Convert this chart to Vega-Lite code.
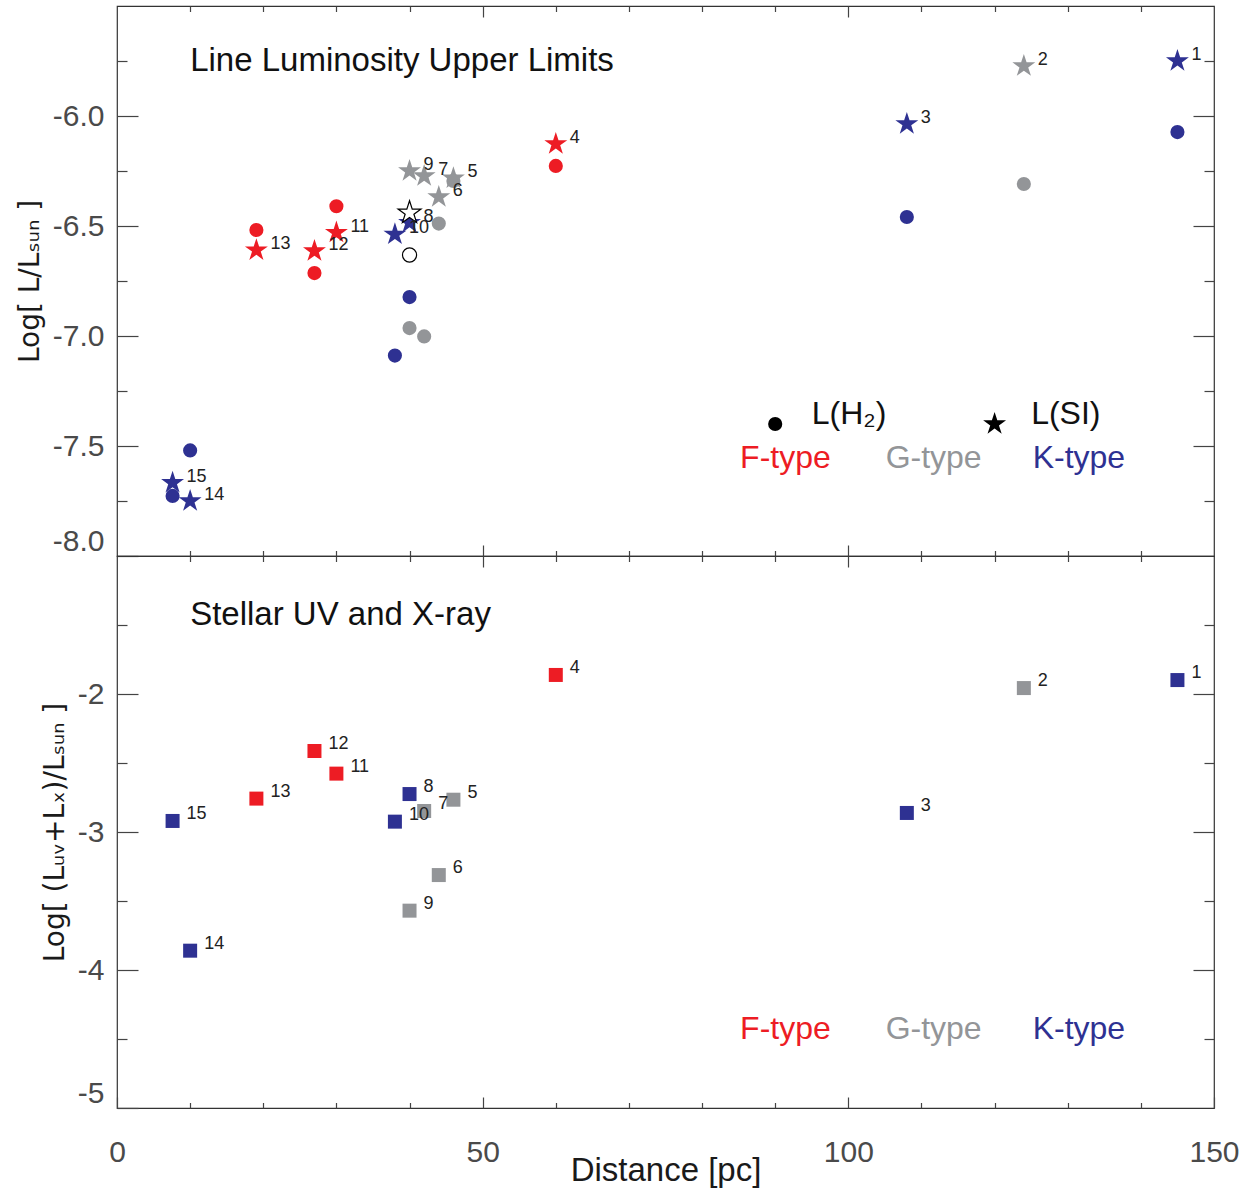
{
  "$schema": "https://vega.github.io/schema/vega-lite/v6.json",
  "background": "white",
  "padding": {"left": 15, "top": 4, "right": 5, "bottom": 5},
  "spacing": 0,
  "bounds": "flush",
  "config": {
    "font": "Liberation Sans",
    "view": {"stroke": "#333333", "strokeWidth": 1.2},
    "axis": {
      "grid": false,
      "labelFont": "Liberation Sans",
      "titleFont": "DejaVu Sans",
      "labelFontSize": 30,
      "titleFontSize": 28,
      "titleFontWeight": "normal",
      "labelColor": "#4a4a4a",
      "titleColor": "#1a1a1a",
      "tickColor": "#444444",
      "tickWidth": 1.2,
      "domain": false
    }
  },
  "datasets": {
    "stars": [
      {"id": 1, "type": "K", "d": 145.0, "SI": -5.75, "H2": -6.073, "UVX": -1.899},
      {"id": 2, "type": "G", "d": 124.0, "SI": -5.773, "H2": -6.309, "UVX": -1.957},
      {"id": 3, "type": "K", "d": 108.0, "SI": -6.036, "H2": -6.459, "UVX": -2.862},
      {"id": 4, "type": "F", "d": 60.0, "SI": -6.127, "H2": -6.227, "UVX": -1.862},
      {"id": 5, "type": "G", "d": 46.0, "SI": -6.283, "H2": -6.295, "UVX": -2.766},
      {"id": 6, "type": "G", "d": 44.0, "SI": -6.368, "H2": -6.489, "UVX": -3.312},
      {"id": 7, "type": "G", "d": 42.0, "SI": -6.273, "H2": -7.002, "UVX": -2.848},
      {"id": 8, "type": "K", "d": 40.0, "SI": -6.485, "H2": -6.823, "UVX": -2.725},
      {"id": 9, "type": "G", "d": 40.0, "SI": -6.25, "H2": -6.964, "UVX": -3.57},
      {"id": 10, "type": "K", "d": 38.0, "SI": -6.538, "H2": -7.089, "UVX": -2.925},
      {"id": 11, "type": "F", "d": 30.0, "SI": -6.53, "H2": -6.41, "UVX": -2.577},
      {"id": 12, "type": "F", "d": 27.0, "SI": -6.614, "H2": -6.714, "UVX": -2.413},
      {"id": 13, "type": "F", "d": 19.06, "SI": -6.61, "H2": -6.518, "UVX": -2.758},
      {"id": 14, "type": "K", "d": 10.0, "SI": -7.75, "H2": -7.52, "UVX": -3.86},
      {"id": 15, "type": "K", "d": 7.6, "SI": -7.667, "H2": -7.727, "UVX": -2.92}
    ],
    "open": [
      {"line": "SI", "d": 40.0, "value": -6.44},
      {"line": "H2", "d": 40.0, "value": -6.632}
    ],
    "legendSym": [
      {"line": "H2", "d": 90, "value": -7.4},
      {"line": "SI", "d": 120, "value": -7.4}
    ],
    "legendTxt": [
      {"label": "L(H₂)", "d": 95, "value": -7.355},
      {"label": "L(SI)", "d": 125, "value": -7.355}
    ],
    "typesTop": [
      {"type": "F", "label": "F-type", "d": 85.2, "value": -7.555},
      {"type": "G", "label": "G-type", "d": 105.1, "value": -7.555},
      {"type": "K", "label": "K-type", "d": 125.2, "value": -7.555}
    ],
    "typesBottom": [
      {"type": "F", "label": "F-type", "d": 85.2, "value": -4.428},
      {"type": "G", "label": "G-type", "d": 105.1, "value": -4.428},
      {"type": "K", "label": "K-type", "d": 125.2, "value": -4.428}
    ],
    "titleTop": [{"label": "Line Luminosity Upper Limits", "d": 10, "value": -5.75}],
    "titleBottom": [{"label": "Stellar UV and X-ray", "d": 10, "value": -1.428}]
  },
  "vconcat": [
    {
      "width": 1097,
      "height": 550,
      "resolve": {"axis": {"x": "independent", "y": "independent"}},
      "layer": [
        {
          "data": {"name": "stars"},
          "transform": [{"fold": ["H2", "SI"], "as": ["line", "value"]}],
          "mark": {"type": "point", "filled": true, "opacity": 1},
          "encoding": {
            "x": {"field": "d", "type": "quantitative", "scale": {"domain": [0, 150], "nice": false, "zero": false},
                  "axis": {"orient": "bottom", "values": [50, 100], "tickSize": -11, "labels": false, "title": null}},
            "y": {"field": "value", "type": "quantitative", "scale": {"domain": [-8, -5.5], "nice": false, "zero": false},
                  "axis": {"orient": "left", "values": [-8, -7.5, -7, -6.5, -6], "format": ".1f", "labelExpr": "replace(datum.label, '−', '-')",
                           "tickSize": -21, "labelPadding": 34, "labelFlush": true, "title": "Log[ L/Lₛᵤₙ ]", "titlePadding": 8}},
            "shape": {"field": "line", "type": "nominal", "scale": {"domain": ["H2", "SI"], "range": ["circle", "M0,-1L0.2245,-0.309L0.9511,-0.309L0.3633,0.118L0.5878,0.809L0,0.382L-0.5878,0.809L-0.3633,0.118L-0.9511,-0.309L-0.2245,-0.309Z"]}, "legend": null},
            "size": {"field": "line", "type": "nominal", "scale": {"domain": ["H2", "SI"], "range": [200, 580]}, "legend": null},
            "color": {"field": "type", "type": "nominal", "scale": {"domain": ["F", "G", "K"], "range": ["#ED1C24", "#939598", "#2E3192"]}, "legend": null}
          }
        },
        {
          "data": {"name": "open"},
          "mark": {"type": "point", "filled": true, "fill": "white", "stroke": "black", "strokeWidth": 1.2, "opacity": 1},
          "encoding": {
            "x": {"field": "d", "type": "quantitative", "scale": {"domain": [0, 150], "nice": false, "zero": false}, "axis": null},
            "y": {"field": "value", "type": "quantitative", "scale": {"domain": [-8, -5.5], "nice": false, "zero": false}, "axis": null},
            "shape": {"field": "line", "type": "nominal", "scale": {"domain": ["H2", "SI"], "range": ["circle", "M0,-1L0.2245,-0.309L0.9511,-0.309L0.3633,0.118L0.5878,0.809L0,0.382L-0.5878,0.809L-0.3633,0.118L-0.9511,-0.309L-0.2245,-0.309Z"]}, "legend": null},
            "size": {"field": "line", "type": "nominal", "scale": {"domain": ["H2", "SI"], "range": [200, 580]}, "legend": null}
          }
        },
        {
          "data": {"name": "stars"},
          "mark": {"type": "text", "align": "left", "baseline": "middle", "dx": 14, "dy": -6, "fontSize": 18, "color": "#222222"},
          "encoding": {
            "x": {"field": "d", "type": "quantitative", "scale": {"domain": [0, 150], "nice": false, "zero": false},
                  "axis": {"orient": "bottom", "values": [10, 20, 30, 40, 60, 70, 80, 90, 110, 120, 130, 140], "tickSize": -5.5, "labels": false, "title": null}},
            "y": {"field": "SI", "type": "quantitative", "scale": {"domain": [-8, -5.5], "nice": false, "zero": false},
                  "axis": {"orient": "left", "values": [-7.75, -7.25, -6.75, -6.25, -5.75], "tickSize": -10, "labels": false, "title": null}},
            "text": {"field": "id", "type": "nominal"}
          }
        },
        {
          "data": {"name": "legendSym"},
          "mark": {"type": "point", "filled": true, "color": "black", "opacity": 1},
          "encoding": {
            "x": {"field": "d", "type": "quantitative", "scale": {"domain": [0, 150], "nice": false, "zero": false},
                  "axis": {"orient": "top", "values": [50, 100], "tickSize": -11, "labels": false, "title": null}},
            "y": {"field": "value", "type": "quantitative", "scale": {"domain": [-8, -5.5], "nice": false, "zero": false},
                  "axis": {"orient": "right", "values": [-7.5, -7, -6.5, -6], "tickSize": -21, "labels": false, "title": null}},
            "shape": {"field": "line", "type": "nominal", "scale": {"domain": ["H2", "SI"], "range": ["circle", "M0,-1L0.2245,-0.309L0.9511,-0.309L0.3633,0.118L0.5878,0.809L0,0.382L-0.5878,0.809L-0.3633,0.118L-0.9511,-0.309L-0.2245,-0.309Z"]}, "legend": null},
            "size": {"field": "line", "type": "nominal", "scale": {"domain": ["H2", "SI"], "range": [200, 580]}, "legend": null}
          }
        },
        {
          "data": {"name": "legendTxt"},
          "mark": {"type": "text", "align": "left", "baseline": "middle", "fontSize": 32, "color": "#111111"},
          "encoding": {
            "x": {"field": "d", "type": "quantitative", "scale": {"domain": [0, 150], "nice": false, "zero": false},
                  "axis": {"orient": "top", "values": [10, 20, 30, 40, 60, 70, 80, 90, 110, 120, 130, 140], "tickSize": -5.5, "labels": false, "title": null}},
            "y": {"field": "value", "type": "quantitative", "scale": {"domain": [-8, -5.5], "nice": false, "zero": false},
                  "axis": {"orient": "right", "values": [-7.75, -7.25, -6.75, -6.25, -5.75], "tickSize": -10, "labels": false, "title": null}},
            "text": {"field": "label", "type": "nominal"}
          }
        },
        {
          "data": {"name": "typesTop"},
          "mark": {"type": "text", "align": "left", "baseline": "middle", "fontSize": 32},
          "encoding": {
            "x": {"field": "d", "type": "quantitative", "scale": {"domain": [0, 150], "nice": false, "zero": false}, "axis": null},
            "y": {"field": "value", "type": "quantitative", "scale": {"domain": [-8, -5.5], "nice": false, "zero": false}, "axis": null},
            "text": {"field": "label", "type": "nominal"},
            "color": {"field": "type", "type": "nominal", "scale": {"domain": ["F", "G", "K"], "range": ["#ED1C24", "#939598", "#2E3192"]}, "legend": null}
          }
        },
        {
          "data": {"name": "titleTop"},
          "mark": {"type": "text", "align": "left", "baseline": "middle", "fontSize": 33, "color": "#111111"},
          "encoding": {
            "x": {"field": "d", "type": "quantitative", "scale": {"domain": [0, 150], "nice": false, "zero": false}, "axis": null},
            "y": {"field": "value", "type": "quantitative", "scale": {"domain": [-8, -5.5], "nice": false, "zero": false}, "axis": null},
            "text": {"field": "label", "type": "nominal"}
          }
        }
      ]
    },
    {
      "width": 1097,
      "height": 552,
      "resolve": {"axis": {"x": "independent", "y": "independent"}},
      "layer": [
        {
          "data": {"name": "stars"},
          "mark": {"type": "square", "opacity": 1, "size": 196},
          "encoding": {
            "x": {"field": "d", "type": "quantitative", "scale": {"domain": [0, 150], "nice": false, "zero": false},
                  "axis": {"orient": "bottom", "values": [0, 50, 100, 150], "tickSize": -11, "labelPadding": 40, "labelFlush": false, "title": "Distance [pc]", "titleFont": "Liberation Sans", "titleFontSize": 33, "titlePadding": -13}},
            "y": {"field": "UVX", "type": "quantitative", "scale": {"domain": [-5, -1], "nice": false, "zero": false},
                  "axis": {"orient": "left", "values": [-5, -4, -3, -2], "format": "d", "labelExpr": "replace(datum.label, '−', '-')",
                           "tickSize": -21, "labelPadding": 34, "labelFlush": true, "title": "Log[ (Lᵤᵥ+Lₓ)/Lₛᵤₙ ]", "titlePadding": 8}},
            "color": {"field": "type", "type": "nominal", "scale": {"domain": ["F", "G", "K"], "range": ["#ED1C24", "#939598", "#2E3192"]}, "legend": null}
          }
        },
        {
          "data": {"name": "stars"},
          "mark": {"type": "text", "align": "left", "baseline": "middle", "dx": 14, "dy": -7, "fontSize": 18, "color": "#222222"},
          "encoding": {
            "x": {"field": "d", "type": "quantitative", "scale": {"domain": [0, 150], "nice": false, "zero": false},
                  "axis": {"orient": "bottom", "values": [10, 20, 30, 40, 60, 70, 80, 90, 110, 120, 130, 140], "tickSize": -5.5, "labels": false, "title": null}},
            "y": {"field": "UVX", "type": "quantitative", "scale": {"domain": [-5, -1], "nice": false, "zero": false},
                  "axis": {"orient": "left", "values": [-4.5, -3.5, -2.5, -1.5], "tickSize": -10, "labels": false, "title": null}},
            "text": {"field": "id", "type": "nominal"}
          }
        },
        {
          "data": {"name": "typesBottom"},
          "mark": {"type": "text", "align": "left", "baseline": "middle", "fontSize": 32},
          "encoding": {
            "x": {"field": "d", "type": "quantitative", "scale": {"domain": [0, 150], "nice": false, "zero": false},
                  "axis": {"orient": "top", "values": [50, 100], "tickSize": -11, "labels": false, "title": null}},
            "y": {"field": "value", "type": "quantitative", "scale": {"domain": [-5, -1], "nice": false, "zero": false},
                  "axis": {"orient": "right", "values": [-4, -3, -2], "tickSize": -21, "labels": false, "title": null}},
            "text": {"field": "label", "type": "nominal"},
            "color": {"field": "type", "type": "nominal", "scale": {"domain": ["F", "G", "K"], "range": ["#ED1C24", "#939598", "#2E3192"]}, "legend": null}
          }
        },
        {
          "data": {"name": "titleBottom"},
          "mark": {"type": "text", "align": "left", "baseline": "middle", "fontSize": 33, "color": "#111111"},
          "encoding": {
            "x": {"field": "d", "type": "quantitative", "scale": {"domain": [0, 150], "nice": false, "zero": false},
                  "axis": {"orient": "top", "values": [10, 20, 30, 40, 60, 70, 80, 90, 110, 120, 130, 140], "tickSize": -5.5, "labels": false, "title": null}},
            "y": {"field": "value", "type": "quantitative", "scale": {"domain": [-5, -1], "nice": false, "zero": false},
                  "axis": {"orient": "right", "values": [-4.5, -3.5, -2.5, -1.5], "tickSize": -10, "labels": false, "title": null}},
            "text": {"field": "label", "type": "nominal"}
          }
        }
      ]
    }
  ]
}
